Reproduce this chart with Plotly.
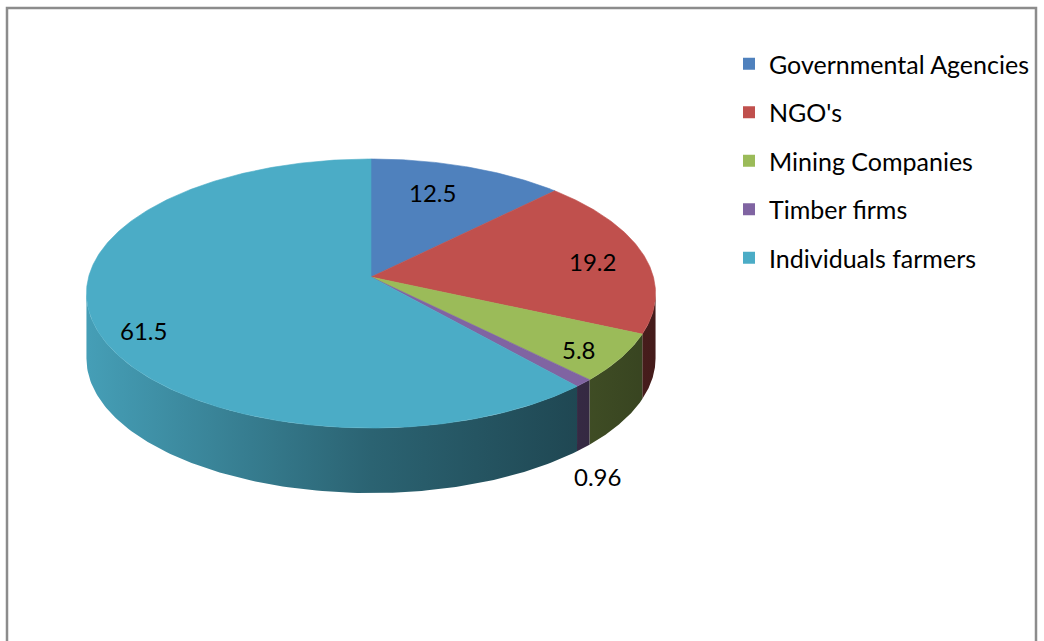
import numpy as np
import plotly.graph_objects as go

# ---- data ----
categories = ["Governmental Agencies", "NGO's", "Mining Companies",
              "Timber firms", "Individuals farmers"]
values = [12.5, 19.2, 5.8, 0.96, 61.5]
value_labels = ["12.5", "19.2", "5.8", "0.96", "61.5"]

# ---- style ----
colors = ["#4F81BD", "#C0504D", "#9BBB59", "#8064A2", "#4BACC6"]
label_radius = [0.68, 0.80, 0.85, 1.06, 0.82]
label_outside = [False, False, False, True, False]
label_nudge = [(-7, -7), (3, 3), (-2, 4), (0, 5), (-3, 14)]
FONT = "Lato"

W, H = 1044, 641
# tilted-disc projection (pixel space)
CX, CY = 371.0, 277.0      # pie centre
A, B = 282.4, 132.5        # horizontal / vertical radius scale
K = 0.1227                 # perspective factor
DEPTH = 65.0               # thickness of the disc


def project(r, theta):
    u = r * np.sin(theta)
    v = r * np.cos(theta)
    d = 1.0 + K * v
    return CX + A * u / d, CY - B * v / d


def hex_rgb(c):
    c = c.lstrip("#")
    return tuple(int(c[i:i + 2], 16) for i in (0, 2, 4))


def shade(c, f):
    r, g, b = hex_rgb(c)
    return f"rgb({int(r * f)},{int(g * f)},{int(b * f)})"


total = sum(values)
bounds = np.concatenate([[0.0], np.cumsum(values)]) / total * 2 * np.pi

# visible front arc of the rim
th_right = np.arccos(-K)
th_left = 2 * np.pi - th_right

fig = go.Figure()

# rim (side walls)
for i, c in enumerate(colors):
    t1, t2 = max(bounds[i], th_right), min(bounds[i + 1], th_left)
    if t2 <= t1:
        continue
    th = np.linspace(t1, t2, 120)
    xs, ys = project(1.0, th)
    px = np.concatenate([xs, xs[::-1], xs[:1]])
    py = np.concatenate([ys, ys[::-1] + DEPTH, ys[:1]])
    fig.add_trace(go.Scatter(
        x=px, y=py, mode="lines", fill="toself",
        line=dict(width=0), fillcolor=shade(c, 0.6),
        fillgradient=dict(type="horizontal", start=CX - A, stop=CX + A,
                          colorscale=[[0, shade(c, 0.92)],
                                      [0.5, shade(c, 0.58)],
                                      [1, shade(c, 0.36)]]),
        hoverinfo="skip", showlegend=False))

# top faces
for i, c in enumerate(colors):
    th = np.linspace(bounds[i], bounds[i + 1], max(8, int(values[i] * 6)))
    xs, ys = project(1.0, th)
    px = np.concatenate([[CX], xs, [CX]])
    py = np.concatenate([[CY], ys, [CY]])
    fig.add_trace(go.Scatter(
        x=px, y=py, mode="lines", fill="toself",
        line=dict(width=0.6, color=c), fillcolor=c,
        name=categories[i], hoverinfo="name", showlegend=False))

# value labels
for i, txt in enumerate(value_labels):
    mid = 0.5 * (bounds[i] + bounds[i + 1])
    lx, ly = project(label_radius[i], mid)
    if label_outside[i]:
        ly += DEPTH
    lx += label_nudge[i][0]
    ly += label_nudge[i][1]
    fig.add_annotation(
        x=lx, y=ly, text=txt, showarrow=False,
        xanchor="center", yanchor="top" if label_outside[i] else "middle",
        font=dict(family=FONT, size=24, color="#000000"))

# legend entries
for i, c in enumerate(colors):
    fig.add_trace(go.Scatter(
        x=[None], y=[None], mode="markers", name=categories[i],
        legendgroup=categories[i],
        marker=dict(symbol="square", size=14, color=c)))

# chart frame
fig.add_shape(type="rect", x0=7, y0=8, x1=1036, y1=700,
              line=dict(color="#8C8C8C", width=2.5), layer="below")

fig.update_layout(
    width=W, height=H,
    margin=dict(l=0, r=0, t=0, b=0),
    paper_bgcolor="white", plot_bgcolor="white",
    xaxis=dict(range=[0, W], visible=False, fixedrange=True),
    yaxis=dict(range=[H, 0], visible=False, fixedrange=True),
    showlegend=True,
    legend=dict(x=729 / W, y=1 - 41 / H, xanchor="left", yanchor="top",
                font=dict(family=FONT, size=25, color="#000000"),
                traceorder="grouped", tracegroupgap=13,
                bgcolor="rgba(0,0,0,0)", itemsizing="constant"),
)

fig.write_html("out.html")
